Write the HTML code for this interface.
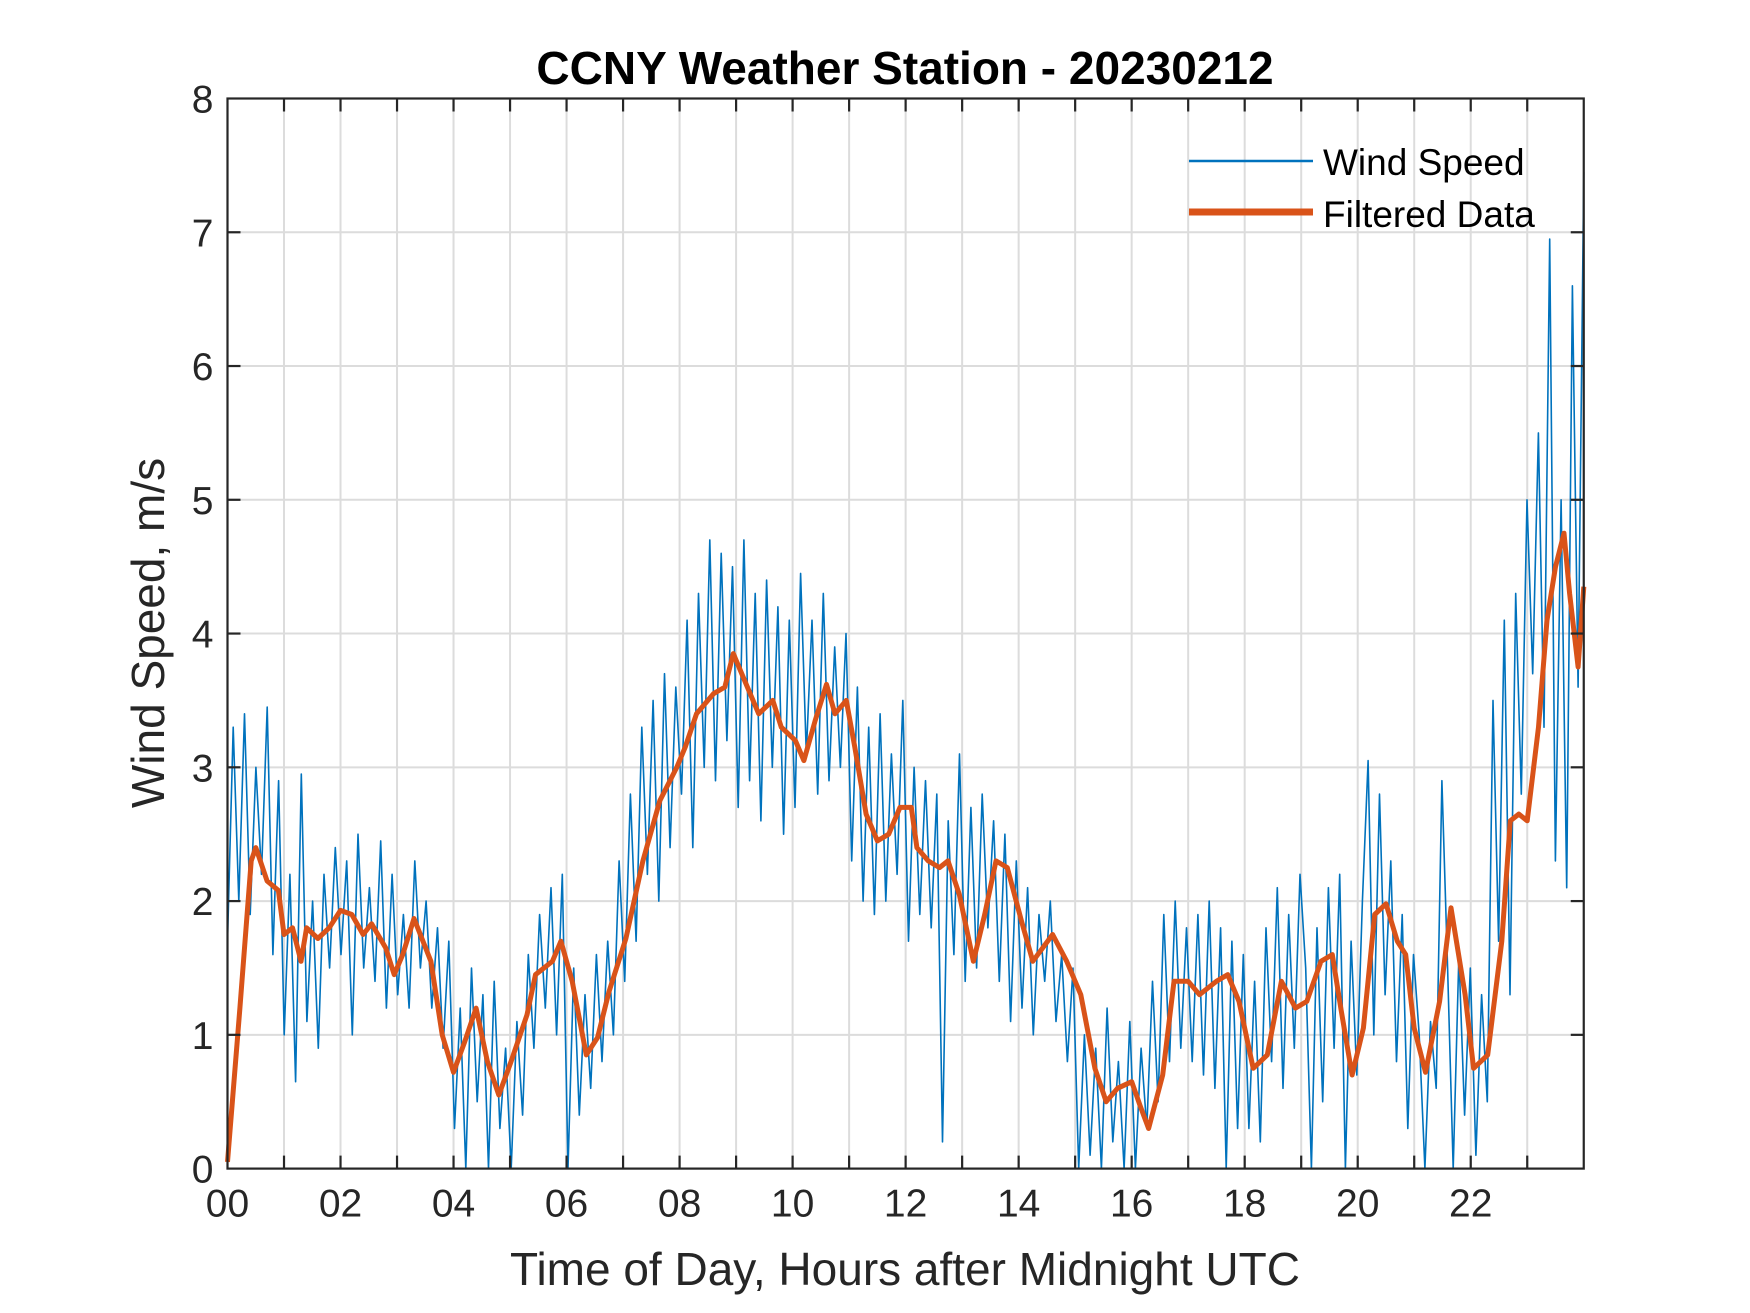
<!DOCTYPE html>
<html><head><meta charset="utf-8"><style>
html,body{margin:0;padding:0;background:#fff;}
svg{display:block;font-family:"Liberation Sans",Arial,sans-serif;}
</style></head><body>
<svg id="chart" width="1750" height="1313" viewBox="0 0 1750 1313" xmlns="http://www.w3.org/2000/svg">
<rect width="1750" height="1313" fill="#fff"/>
<g id="grid"></g>
<g id="series"></g>
<g id="axes"></g>
<text x="905" y="84" font-size="46" font-weight="bold" text-anchor="middle" fill="#000">CCNY Weather Station - 20230212</text>
<text x="905" y="1285" font-size="46" text-anchor="middle" fill="#262626">Time of Day, Hours after Midnight UTC</text>
<text transform="translate(164,633) rotate(-90)" font-size="46" text-anchor="middle" fill="#262626">Wind Speed, m/s</text>
<g>
<line x1="1189" y1="161" x2="1313" y2="161" stroke="#0072BD" stroke-width="2.5"/>
<text x="1323" y="175" font-size="37" fill="#000">Wind Speed</text>
<line x1="1189" y1="212" x2="1313" y2="212" stroke="#D95319" stroke-width="7"/>
<text x="1323" y="227" font-size="37" fill="#000">Filtered Data</text>
</g>
</svg>
<script>
const xTickLabels = ["00","02","04","06","08","10","12","14","16","18","20","22"];
const yTickLabels = ["0","1","2","3","4","5","6","7","8"];
const windSpeed = [
1.7,3.3,2.0,3.4,1.9,3.0,2.2,3.45,1.6,2.9,
1.0,2.2,0.65,2.95,1.1,2.0,0.9,2.2,1.5,2.4,
1.6,2.3,1.0,2.5,1.5,2.1,1.4,2.45,1.2,2.2,
1.3,1.9,1.2,2.3,1.5,2.0,1.2,1.8,0.9,1.7,
0.3,1.2,0.0,1.5,0.5,1.3,0.0,1.4,0.3,0.9,
0.0,1.1,0.4,1.6,0.9,1.9,1.2,2.1,1.0,2.2,
0.0,1.5,0.4,1.3,0.6,1.6,0.8,1.7,1.0,2.3,
1.4,2.8,1.7,3.3,2.2,3.5,2.0,3.7,2.4,3.6,
2.8,4.1,2.4,4.3,3.0,4.7,2.9,4.6,3.2,4.5,
2.7,4.7,2.9,4.3,2.6,4.4,3.0,4.2,2.5,4.1,
2.7,4.45,3.1,4.1,2.8,4.3,2.9,3.9,3.0,4.0,
2.3,3.6,2.0,3.3,1.9,3.4,2.0,3.1,2.2,3.5,
1.7,3.0,1.9,2.9,1.8,2.8,0.2,2.6,1.6,3.1,
1.4,2.7,1.5,2.8,1.8,2.6,1.4,2.5,1.1,2.3,
1.2,2.1,1.0,1.9,1.4,2.0,1.1,1.6,0.8,1.5,
0.0,1.0,0.1,0.9,0.0,1.2,0.2,0.8,0.0,1.1,
0.0,0.9,0.3,1.4,0.5,1.9,0.8,2.0,0.9,1.8,
0.8,1.9,0.7,2.0,0.6,1.8,0.0,1.7,0.3,1.6,
0.3,1.4,0.2,1.8,0.8,2.1,0.6,1.9,0.9,2.2,
1.5,0.0,1.8,0.5,2.1,0.9,2.2,0.0,1.7,0.7,
2.0,3.05,1.0,2.8,1.3,2.3,0.8,1.9,0.3,1.6,
1.0,0.0,1.1,0.6,2.9,1.5,0.0,1.6,0.4,1.5,
0.1,1.3,0.5,3.5,1.7,4.1,1.3,4.3,2.8,5.0,
3.7,5.5,3.3,6.95,2.3,5.0,2.1,6.6,3.6,7.45
];
const filteredHours = [0,0.22,0.42,0.5,0.7,0.9,1.0,1.15,1.3,1.4,1.6,1.8,2.0,2.2,2.4,2.55,2.8,2.95,3.1,3.3,3.6,3.8,4.0,4.2,4.4,4.6,4.8,5.0,5.3,5.45,5.75,5.9,6.1,6.35,6.55,6.75,7.05,7.35,7.65,7.95,8.1,8.3,8.6,8.8,8.95,9.2,9.4,9.65,9.8,10.05,10.2,10.4,10.6,10.75,10.95,11.1,11.3,11.5,11.7,11.9,12.1,12.2,12.4,12.6,12.75,12.95,13.2,13.4,13.6,13.8,14.05,14.25,14.6,14.85,15.1,15.35,15.55,15.75,16.0,16.15,16.3,16.55,16.75,17.0,17.2,17.5,17.7,17.9,18.15,18.4,18.65,18.9,19.1,19.35,19.55,19.7,19.9,20.1,20.3,20.5,20.7,20.85,21.0,21.2,21.45,21.65,21.9,22.05,22.3,22.55,22.7,22.85,23.0,23.2,23.35,23.5,23.65,23.75,23.9,24];
const filteredValues = [0.05,1.2,2.3,2.4,2.15,2.08,1.75,1.8,1.55,1.8,1.72,1.8,1.93,1.9,1.75,1.83,1.65,1.45,1.6,1.87,1.55,1.0,0.72,0.95,1.2,0.8,0.55,0.78,1.15,1.45,1.55,1.7,1.4,0.85,0.98,1.32,1.72,2.3,2.75,3.0,3.15,3.4,3.55,3.6,3.85,3.6,3.4,3.5,3.3,3.2,3.05,3.35,3.62,3.4,3.5,3.15,2.65,2.45,2.5,2.7,2.7,2.4,2.3,2.25,2.3,2.05,1.55,1.9,2.3,2.25,1.85,1.55,1.75,1.55,1.3,0.75,0.5,0.6,0.65,0.47,0.3,0.7,1.4,1.4,1.3,1.4,1.45,1.25,0.75,0.85,1.4,1.2,1.25,1.55,1.6,1.2,0.7,1.05,1.9,1.98,1.7,1.6,1.05,0.72,1.25,1.95,1.3,0.75,0.85,1.7,2.6,2.65,2.6,3.3,4.1,4.5,4.75,4.3,3.75,4.35];

const NS="http://www.w3.org/2000/svg";
const L=227.5,R=1583.75,T=98.5,B=1168.6;
const xs=h=>L+(R-L)*h/24;
const ys=v=>B-(B-T)*v/8;
function mk(tag,attrs,parent){const e=document.createElementNS(NS,tag);for(const k in attrs)e.setAttribute(k,attrs[k]);parent.appendChild(e);return e;}
const grid=document.getElementById('grid'),axes=document.getElementById('axes'),series=document.getElementById('series');
for(let h=1;h<24;h++){const g=mk('line',{x1:xs(h),x2:xs(h),y1:T,y2:B,stroke:'#dcdcdc','stroke-width':2},grid);

}
for(let v=1;v<8;v++){const g=mk('line',{x1:L,x2:R,y1:ys(v),y2:ys(v),stroke:'#dcdcdc','stroke-width':2},grid);

}
let d='';windSpeed.forEach((v,i)=>{d+=(i?'L':'M')+xs(i*24/(windSpeed.length-1)).toFixed(1)+','+ys(v).toFixed(1);});
const p1=mk('path',{d:d,fill:'none',stroke:'#0072BD','stroke-width':1.6,'stroke-linejoin':'round'},series);


let d2='';filteredValues.forEach((v,i)=>{d2+=(i?'L':'M')+xs(filteredHours[i]).toFixed(1)+','+ys(v).toFixed(1);});
const p2=mk('path',{d:d2,fill:'none',stroke:'#D95319','stroke-width':5,'stroke-linejoin':'round'},series);


const box=mk('rect',{x:L,y:T,width:R-L,height:B-T,fill:'none',stroke:'#262626','stroke-width':2.2},axes);


for(let h=1;h<24;h++){
const t1=mk('line',{x1:xs(h),x2:xs(h),y1:B,y2:B-13,stroke:'#262626','stroke-width':2.2},axes);


const t2=mk('line',{x1:xs(h),x2:xs(h),y1:T,y2:T+13,stroke:'#262626','stroke-width':2.2},axes);

}
for(let v=1;v<8;v++){
const t1=mk('line',{x1:L,x2:L+13,y1:ys(v),y2:ys(v),stroke:'#262626','stroke-width':2.2},axes);


const t2=mk('line',{x1:R,x2:R-13,y1:ys(v),y2:ys(v),stroke:'#262626','stroke-width':2.2},axes);

}
xTickLabels.forEach((s,i)=>{const t=mk('text',{x:xs(i*2),y:B+48,'font-size':39,'text-anchor':'middle',fill:'#262626'},axes);t.textContent=s;

});
yTickLabels.forEach((s,i)=>{const t=mk('text',{x:L-14,y:ys(i)+14,'font-size':39,'text-anchor':'end',fill:'#262626'},axes);t.textContent=s;

});
</script>
</body></html>
